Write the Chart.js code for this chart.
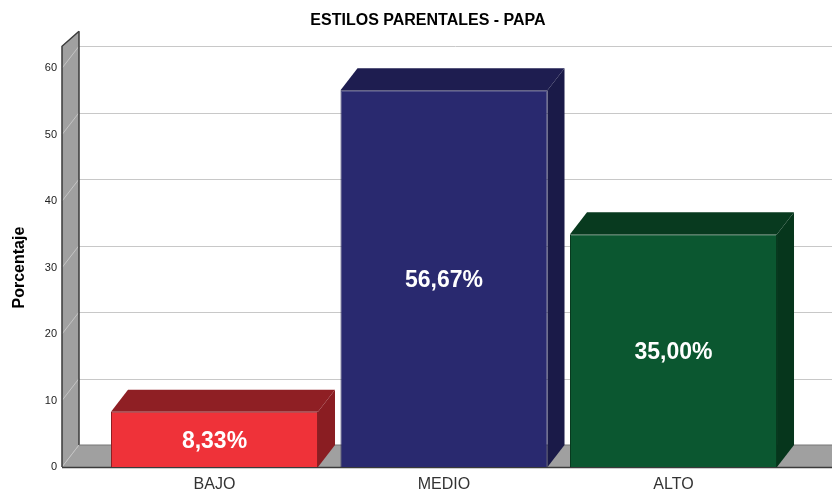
<!DOCTYPE html>
<html>
<head>
<meta charset="utf-8">
<script src="https://cdn.jsdelivr.net/npm/chart.js@4.4.1/dist/chart.umd.min.js"></script>
<style>
  html, body { margin: 0; padding: 0; background: #fff; }
  #wrap { width: 832px; height: 495px; }
</style>
</head>
<body>
<div id="wrap"><canvas id="grafico"></canvas></div>
<script>
// datos
var categorias = ['BAJO', 'MEDIO', 'ALTO'];
var porcentajes = [8.33, 56.67, 35.00];
var yTicks = [0, 10, 20, 30, 40, 50, 60];

var colorFrente = ['#ef3239', '#29296f', '#0b5730'];
var colorArriba = ['#8f1f24', '#1e1d50', '#083a1f'];
var colorLado = ['#8a1d22', '#1a1a48', '#06361c'];

// profundidad 3D
var DX = 17, DY = -22;

var fondo3d = {
  id: 'fondo3d',
  beforeDatasetsDraw: function (chart) {
    var ctx = chart.ctx, ca = chart.chartArea, y = chart.scales.y;
    var x0 = ca.left, y0 = y.getPixelForValue(0);
    var yTop = y.getPixelForValue(63.3);
    ctx.save();
    // lineas de la pared del fondo
    ctx.strokeStyle = '#c8c8c8';
    ctx.lineWidth = 1;
    yTicks.forEach(function (v) {
      if (v === 0) return;
      var py = Math.round(y.getPixelForValue(v) + DY) + 0.5;
      ctx.beginPath();
      ctx.moveTo(x0 + DX, py);
      ctx.lineTo(chart.width, py);
      ctx.stroke();
    });
    // pared izquierda
    ctx.fillStyle = '#a0a0a0';
    ctx.beginPath();
    ctx.moveTo(x0, yTop);
    ctx.lineTo(x0 + DX, yTop - 15);
    ctx.lineTo(x0 + DX, y0 + DY);
    ctx.lineTo(x0, y0);
    ctx.closePath();
    ctx.fill();
    // piso
    ctx.beginPath();
    ctx.moveTo(x0, y0);
    ctx.lineTo(x0 + DX, y0 + DY);
    ctx.lineTo(chart.width + 30, y0 + DY);
    ctx.lineTo(chart.width + 30 - DX, y0);
    ctx.closePath();
    ctx.fill();
    // diagonales en la pared
    ctx.strokeStyle = '#c4c4c4';
    yTicks.forEach(function (v) {
      var py = y.getPixelForValue(v);
      ctx.beginPath();
      ctx.moveTo(x0, py);
      ctx.lineTo(x0 + DX, py + DY);
      ctx.stroke();
    });
    // bordes
    ctx.strokeStyle = '#3a3a3a';
    ctx.lineWidth = 1.5;
    ctx.beginPath();
    ctx.moveTo(x0, y0);
    ctx.lineTo(x0, yTop);
    ctx.lineTo(x0 + DX, yTop - 15);
    ctx.stroke();
    ctx.beginPath();
    ctx.moveTo(x0 + DX, yTop - 15);
    ctx.lineTo(x0 + DX, y0 + DY);
    ctx.stroke();
    ctx.beginPath();
    ctx.moveTo(x0, y0 + 0.5);
    ctx.lineTo(chart.width, y0 + 0.5);
    ctx.stroke();
    ctx.strokeStyle = '#777';
    ctx.lineWidth = 1;
    ctx.beginPath();
    ctx.moveTo(x0 + DX, y0 + DY);
    ctx.lineTo(chart.width, y0 + DY);
    ctx.stroke();
    ctx.restore();
  },
  afterDatasetsDraw: function (chart) {
    var ctx = chart.ctx;
    var meta = chart.getDatasetMeta(0);
    ctx.save();
    meta.data.forEach(function (bar, i) {
      var l = bar.x - bar.width / 2, r = bar.x + bar.width / 2;
      var t = bar.y, b = bar.base;
      // cara superior
      ctx.fillStyle = colorArriba[i];
      ctx.beginPath();
      ctx.moveTo(l, t);
      ctx.lineTo(l + DX, t + DY);
      ctx.lineTo(r + DX, t + DY);
      ctx.lineTo(r, t);
      ctx.closePath();
      ctx.fill();
      // cara lateral
      ctx.fillStyle = colorLado[i];
      ctx.beginPath();
      ctx.moveTo(r, t);
      ctx.lineTo(r + DX, t + DY);
      ctx.lineTo(r + DX, b + DY);
      ctx.lineTo(r, b);
      ctx.closePath();
      ctx.fill();
      // etiqueta
      ctx.fillStyle = '#ffffff';
      ctx.font = 'bold 23px Arial, "Liberation Sans", sans-serif';
      ctx.textAlign = 'center';
      ctx.textBaseline = 'middle';
      var txt = porcentajes[i].toFixed(2).replace('.', ',') + '%';
      ctx.fillText(txt, bar.x, (t + b) / 2 + 2);
    });
    ctx.restore();
  }
};

var puntos = categorias.map(function (c, i) {
  return { x: i, y: porcentajes[i] };
});

var ctx = document.getElementById('grafico').getContext('2d');
var myChart = new Chart(ctx, {
  type: 'bar',
  data: {
    datasets: [{
      label: 'Porcentaje',
      data: puntos,
      backgroundColor: colorFrente,
      borderColor: colorArriba,
      borderWidth: 1,
      categoryPercentage: 1,
      barPercentage: 0.902
    }]
  },
  plugins: [fondo3d],
  options: {
    responsive: true,
    maintainAspectRatio: false,
    animation: false,
    layout: { padding: { left: 0, right: 38, top: 0, bottom: 0 } },
    plugins: {
      legend: { display: false },
      tooltip: { enabled: false },
      title: {
        display: true,
        text: 'ESTILOS PARENTALES - PAPA',
        fullSize: false,
        color: '#000',
        font: { family: 'Arial, "Liberation Sans", sans-serif', size: 16, weight: 'bold' },
        padding: { top: 11, bottom: 38 }
      }
    },
    scales: {
      x: {
        type: 'linear',
        offset: false,
        min: -0.6645,
        max: 2.525,
        grid: { display: false, offset: false },
        border: { display: false },
        afterBuildTicks: function (scale) {
          scale.ticks = categorias.map(function (c, i) { return { value: i }; });
        },
        afterFit: function (scale) { scale.height = 28; },
        ticks: {
          padding: 0,
          color: '#333',
          font: { family: 'Arial, "Liberation Sans", sans-serif', size: 16 },
          callback: function (v) { return categorias[v]; }
        }
      },
      y: {
        min: 0,
        max: 60,
        grid: { display: false, drawTicks: false },
        border: { display: false },
        afterFit: function (scale) { scale.width = 62; },
        afterBuildTicks: function (scale) {
          scale.ticks = yTicks.map(function (v) { return { value: v }; });
        },
        ticks: {
          padding: 5,
          color: '#222',
          font: { family: 'Arial, "Liberation Sans", sans-serif', size: 11 }
        },
        title: {
          display: true,
          text: 'Porcentaje',
          color: '#000',
          padding: { top: 10, bottom: 0 },
          font: { family: 'Arial, "Liberation Sans", sans-serif', size: 16, weight: 'bold' }
        }
      }
    }
  }
});
</script>
</body>
</html>
